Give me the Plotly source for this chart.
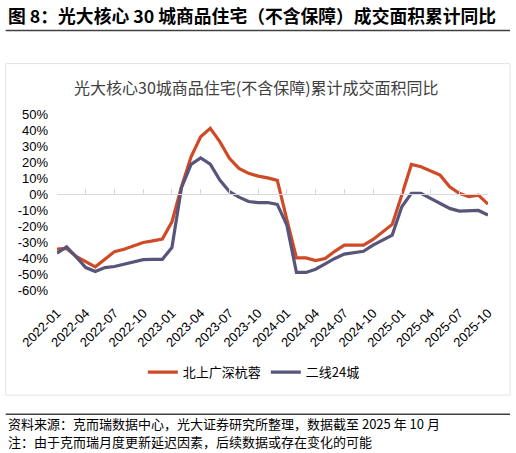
import plotly.graph_objects as go

months = [f"{y}-{m:02d}" for y in range(2022, 2026) for m in range(1, 13)][:46]
tick_labels = months[::3]

series_names = ["北上广深杭蓉", "二线24城"]
red_vals = [-34.5, -34, -39, -42, -45.5, -40.8, -36, -34.5, -32.4, -30.3, -29.3, -28.2,
            -17.4, 4.5, 23.3, 35.8, 41, 32.7, 22.3, 16, 12.9, 11.2, 10.1, 8.5,
            -16, -39.9, -39.9, -41.6, -40.3, -35.8, -32, -32, -32, -28.4, -24, -19,
            -0.7, 18.5, 17, 14.5, 11.8, 4.5, 0.4, -1.7, -0.7, -6.3]
blue_vals = [-37, -33, -39.3, -46, -48.5, -46, -45.3, -44, -42.4, -41, -40.8, -40.8,
             -33.5, 4, 18.5, 22.5, 18.7, 8.7, 1.5, -2, -4.7, -5.4, -5.3, -6.5,
             -19.5, -49, -49, -47, -43.7, -40.3, -37.6, -36.6, -35.8, -32, -28.9, -25.7,
             -8, 0.4, 0.4, -2.8, -5.5, -9, -10.7, -10.7, -10.3, -13.2]
y_ticks = list(range(-60, 51, 10))

RED = "#CF4A27"
BLUE = "#57557A"
W, H = 516, 453
L, R, T, B = 57.3, 28, 114.3, 163
PW, PH = W - L - R, H - T - B


def px(x):
    return (x - L) / PW


def py(y):
    return (H - B - y) / PH


AX_FONT = "Liberation Sans, Arial, Noto Sans CJK SC"
CJK_FONT = "Noto Sans CJK SC, Liberation Sans"

fig = go.Figure()
fig.add_trace(go.Scatter(x=months, y=red_vals, name=series_names[0], mode="lines",
                         line=dict(color=RED, width=3.2)))
fig.add_trace(go.Scatter(x=months, y=blue_vals, name=series_names[1], mode="lines",
                         line=dict(color=BLUE, width=3.2)))
# invisible trace to hold the zero-crossing axis
fig.add_trace(go.Scatter(x=months, y=[None] * len(months), xaxis="x2", showlegend=False,
                         hoverinfo="skip"))

fig.update_layout(
    width=W, height=H,
    margin=dict(l=L, r=R, t=T, b=B),
    paper_bgcolor="white", plot_bgcolor="rgba(0,0,0,0)",
    xaxis=dict(type="category", range=[0, 45], tickmode="array", tickvals=tick_labels,
               ticktext=tick_labels, tickangle=-45, showline=False, showgrid=False,
               zeroline=False, ticks="", ticklabelstandoff=12,
               tickfont=dict(family=AX_FONT, size=13, color="#000000")),
    xaxis2=dict(type="category", range=[0, 45], overlaying="x", anchor="free",
                position=60 / 110, tickmode="array", tickvals=tick_labels,
                showticklabels=False, showline=True, linecolor="#D9D9D9", linewidth=1.3,
                ticks="inside", ticklen=5, tickcolor="#D9D9D9", tickwidth=1.3,
                showgrid=False, zeroline=False),
    yaxis=dict(range=[-60, 50], tickmode="array", tickvals=y_ticks,
               ticktext=[f"{v}%" for v in y_ticks], showgrid=False, zeroline=False,
               showline=False, ticks="", ticklabelstandoff=8,
               tickfont=dict(family=AX_FONT, size=13, color="#000000")),
    legend=dict(orientation="h", x=px(254), xanchor="center", y=py(372), yanchor="middle",
                font=dict(family=CJK_FONT, size=13, color="#000000"),
                bgcolor="rgba(0,0,0,0)", traceorder="normal", itemwidth=30),
    showlegend=True,
)

shapes = [
    # chart frame
    dict(type="rect", xref="paper", yref="paper", x0=px(6), x1=px(510), y0=py(395), y1=py(64),
         line=dict(color="#E3E3E3", width=1), fillcolor="rgba(0,0,0,0)", layer="below"),
    # header rule
    dict(type="line", xref="paper", yref="paper", x0=px(6), x1=px(510), y0=py(31), y1=py(31),
         line=dict(color="#404040", width=1.5)),
    # footer rule
    dict(type="line", xref="paper", yref="paper", x0=px(6), x1=px(510), y0=py(414), y1=py(414),
         line=dict(color="#404040", width=1.5)),
]
fig.update_layout(shapes=shapes)

annotations = [
    dict(text="<b>图 8：光大核心 30 城商品住宅（不含保障）成交面积累计同比</b>",
         xref="paper", yref="paper", x=px(6), y=py(15), xanchor="left", yanchor="middle",
         showarrow=False, font=dict(family=CJK_FONT, size=17.8, color="#000000")),
    dict(text="光大核心30城商品住宅(不含保障)累计成交面积同比",
         xref="paper", yref="paper", x=px(256.5), y=py(87), xanchor="center", yanchor="middle",
         showarrow=False, font=dict(family=CJK_FONT, size=16, color="#404040")),
    dict(text="资料来源：克而瑞数据中心，光大证券研究所整理，数据截至 2025 年 10 月",
         xref="paper", yref="paper", x=px(6), y=py(423.5), xanchor="left", yanchor="middle",
         showarrow=False, font=dict(family=CJK_FONT, size=13, color="#000000")),
    dict(text="注：由于克而瑞月度更新延迟因素，后续数据或存在变化的可能",
         xref="paper", yref="paper", x=px(6), y=py(441.5), xanchor="left", yanchor="middle",
         showarrow=False, font=dict(family=CJK_FONT, size=13, color="#000000")),
]
fig.update_layout(annotations=annotations)

fig.write_html("out.html")
